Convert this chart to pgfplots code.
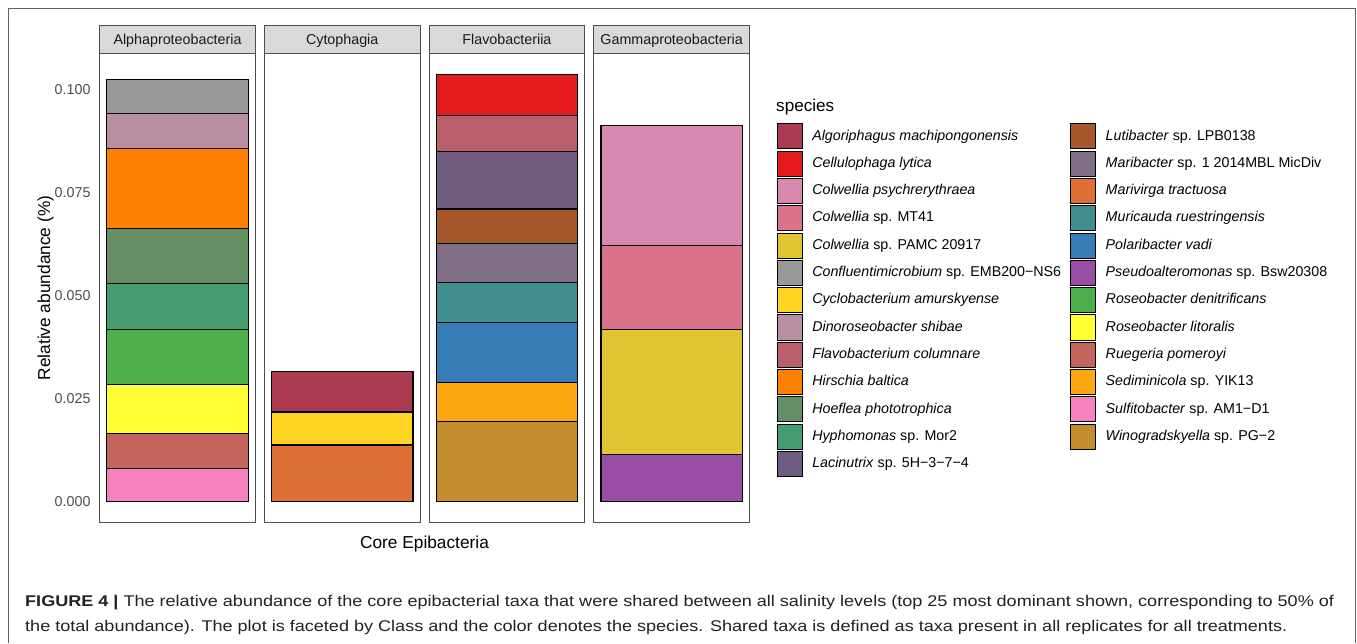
\documentclass[border=0pt]{standalone}
\usepackage{pgfplots}
\pgfplotsset{compat=1.18}
\usepackage{fontspec}
\setmainfont{Liberation Sans}
\newfontfamily\capfont[FakeStretch=1.165]{Liberation Sans}

% species colours
\definecolor{cAlgo}{HTML}{AB3A50}
\definecolor{cCell}{HTML}{E41A1C}
\definecolor{cCpsy}{HTML}{D889B0}
\definecolor{cCmt}{HTML}{DB728C}
\definecolor{cCpamc}{HTML}{E0C430}
\definecolor{cConf}{HTML}{999999}
\definecolor{cCycl}{HTML}{FFD422}
\definecolor{cDino}{HTML}{BA8FA4}
\definecolor{cFlav}{HTML}{BA606D}
\definecolor{cHirs}{HTML}{FF7F00}
\definecolor{cHoef}{HTML}{668F66}
\definecolor{cHyph}{HTML}{449E6F}
\definecolor{cLaci}{HTML}{6F5B80}
\definecolor{cLuti}{HTML}{A6572B}
\definecolor{cMarb}{HTML}{7F6F86}
\definecolor{cMarv}{HTML}{DE6F36}
\definecolor{cMuri}{HTML}{408E90}
\definecolor{cPola}{HTML}{377EB8}
\definecolor{cPseu}{HTML}{984EA3}
\definecolor{cRden}{HTML}{4DAF4A}
\definecolor{cRlit}{HTML}{FFFF33}
\definecolor{cRueg}{HTML}{C3655C}
\definecolor{cSedi}{HTML}{FDA713}
\definecolor{cSulf}{HTML}{F781BF}
\definecolor{cWino}{HTML}{C48D2E}

\definecolor{panelgray}{HTML}{4D4D4D}
\definecolor{stripfill}{HTML}{D9D9D9}
\definecolor{tickgray}{HTML}{4D4D4D}
\definecolor{framegray}{HTML}{5F5F5F}
\definecolor{captext}{HTML}{222222}

\pgfplotsset{
  panel/.style={
    anchor=south west,
    scale only axis,
    width=155.6pt, height=469.4pt,
    xmin=-0.55, xmax=0.55,
    ymin=-0.00518, ymax=0.1088,
    ybar stacked, bar width=1,
    xtick=\empty,
    ytick={0,0.025,0.05,0.075,0.1},
    yticklabels={},
    major tick length=0pt,
    axis line style={draw=panelgray, line width=0.9pt},
    every axis plot/.append style={draw=black, line width=1.3pt},
  },
}

\newcommand{\strip}[2]{%
  \draw[panelgray, line width=0.9pt, fill=stripfill]
    (#1.north west) rectangle ([yshift=27.6pt]#1.north east);
  \node[anchor=base, text=black!90, font=\fontsize{14.3}{16}\selectfont]
    at ([yshift=9.1pt]#1.north) {#2};
}

\begin{document}
\begin{tikzpicture}
\path[use as bounding box, fill=white] (0pt,0pt) rectangle (1357pt,643pt);

% outer frame (open at the bottom)
\draw[framegray, line width=1pt] (8pt,0pt) -- (8pt,634pt) -- (1355.5pt,634pt) -- (1355.5pt,0pt);

% Alphaproteobacteria
\begin{axis}[panel, name=p1, at={(99.7pt,120.3pt)},
  yticklabels={0.000,0.025,0.050,0.075,0.100},
  yticklabel style={font=\fontsize{14.3}{16}\selectfont, text=tickgray, inner sep=0pt, xshift=-9pt}]
\addplot[fill=cSulf] coordinates {(0,0.0079)};
\addplot[fill=cRueg] coordinates {(0,0.0085)};
\addplot[fill=cRlit] coordinates {(0,0.0119)};
\addplot[fill=cRden] coordinates {(0,0.0135)};
\addplot[fill=cHyph] coordinates {(0,0.0111)};
\addplot[fill=cHoef] coordinates {(0,0.0134)};
\addplot[fill=cHirs] coordinates {(0,0.0194)};
\addplot[fill=cDino] coordinates {(0,0.0084)};
\addplot[fill=cConf] coordinates {(0,0.0083)};
\end{axis}

% Cytophagia
\begin{axis}[panel, name=p2, at={(264.4pt,120.3pt)}]
\addplot[fill=cMarv] coordinates {(0,0.0137)};
\addplot[fill=cCycl] coordinates {(0,0.0080)};
\addplot[fill=cAlgo] coordinates {(0,0.0098)};
\end{axis}

% Flavobacteriia
\begin{axis}[panel, name=p3, at={(429.1pt,120.3pt)}]
\addplot[fill=cWino] coordinates {(0,0.0194)};
\addplot[fill=cSedi] coordinates {(0,0.0095)};
\addplot[fill=cPola] coordinates {(0,0.0145)};
\addplot[fill=cMuri] coordinates {(0,0.0098)};
\addplot[fill=cMarb] coordinates {(0,0.0094)};
\addplot[fill=cLuti] coordinates {(0,0.0084)};
\addplot[fill=cLaci] coordinates {(0,0.0140)};
\addplot[fill=cFlav] coordinates {(0,0.0087)};
\addplot[fill=cCell] coordinates {(0,0.0099)};
\end{axis}

% Gammaproteobacteria
\begin{axis}[panel, name=p4, at={(593.8pt,120.3pt)}]
\addplot[fill=cPseu] coordinates {(0,0.0114)};
\addplot[fill=cCpamc] coordinates {(0,0.0304)};
\addplot[fill=cCmt] coordinates {(0,0.0204)};
\addplot[fill=cCpsy] coordinates {(0,0.0291)};
\end{axis}

\strip{p1}{Alphaproteobacteria}
\strip{p2}{Cytophagia}
\strip{p3}{Flavobacteriia}
\strip{p4}{Gammaproteobacteria}

% axis titles
\node[anchor=base, rotate=90, font=\fontsize{17.3}{20}\selectfont] at (50pt,355pt) {Relative abundance (\%)};
\node[anchor=base, font=\fontsize{17.3}{20}\selectfont] at (424.5pt,95pt) {Core Epibacteria};

% legend
\node[anchor=base west, inner sep=0pt, font=\fontsize{17.1}{20}\selectfont] at (776pt,531.3pt) {species};
\begin{axis}[at={(776.7pt,519.7pt)}, anchor=north west, hide axis, scale only axis,
  width=10pt, height=10pt, xmin=0, xmax=1, ymin=0, ymax=1,
  legend columns=2, legend cell align=left,
  legend style={at={(0,1)}, anchor=north west, draw=none, fill=none,
    inner sep=0pt, outer sep=0pt, row sep=1.3pt, column sep=0pt,
    font=\fontsize{14.25}{16}\selectfont,
    nodes={inner sep=0pt, text height=10.5pt, text depth=3pt},
    /tikz/every odd column/.append style={column sep=9.6pt},
    /tikz/every even column/.append style={column sep=9pt}},
  legend image code/.code={\draw[#1, line width=0.9pt] (0.45pt,-12.55pt) rectangle (25.55pt,12.55pt);}]
\addlegendimage{fill=cAlgo, draw=black}\addlegendentry{\textit{Algoriphagus machipongonensis}}
\addlegendimage{fill=cLuti, draw=black}\addlegendentry{\textit{Lutibacter} sp. LPB0138}
\addlegendimage{fill=cCell, draw=black}\addlegendentry{\textit{Cellulophaga lytica}}
\addlegendimage{fill=cMarb, draw=black}\addlegendentry{\textit{Maribacter} sp. 1 2014MBL MicDiv}
\addlegendimage{fill=cCpsy, draw=black}\addlegendentry{\textit{Colwellia psychrerythraea}}
\addlegendimage{fill=cMarv, draw=black}\addlegendentry{\textit{Marivirga tractuosa}}
\addlegendimage{fill=cCmt, draw=black}\addlegendentry{\textit{Colwellia} sp. MT41}
\addlegendimage{fill=cMuri, draw=black}\addlegendentry{\textit{Muricauda ruestringensis}}
\addlegendimage{fill=cCpamc, draw=black}\addlegendentry{\textit{Colwellia} sp. PAMC 20917}
\addlegendimage{fill=cPola, draw=black}\addlegendentry{\textit{Polaribacter vadi}}
\addlegendimage{fill=cConf, draw=black}\addlegendentry{\textit{Confluentimicrobium} sp. EMB200−NS6}
\addlegendimage{fill=cPseu, draw=black}\addlegendentry{\textit{Pseudoalteromonas} sp. Bsw20308}
\addlegendimage{fill=cCycl, draw=black}\addlegendentry{\textit{Cyclobacterium amurskyense}}
\addlegendimage{fill=cRden, draw=black}\addlegendentry{\textit{Roseobacter denitrificans}}
\addlegendimage{fill=cDino, draw=black}\addlegendentry{\textit{Dinoroseobacter shibae}}
\addlegendimage{fill=cRlit, draw=black}\addlegendentry{\textit{Roseobacter litoralis}}
\addlegendimage{fill=cFlav, draw=black}\addlegendentry{\textit{Flavobacterium columnare}}
\addlegendimage{fill=cRueg, draw=black}\addlegendentry{\textit{Ruegeria pomeroyi}}
\addlegendimage{fill=cHirs, draw=black}\addlegendentry{\textit{Hirschia baltica}}
\addlegendimage{fill=cSedi, draw=black}\addlegendentry{\textit{Sediminicola} sp. YIK13}
\addlegendimage{fill=cHoef, draw=black}\addlegendentry{\textit{Hoeflea phototrophica}}
\addlegendimage{fill=cSulf, draw=black}\addlegendentry{\textit{Sulfitobacter} sp. AM1−D1}
\addlegendimage{fill=cHyph, draw=black}\addlegendentry{\textit{Hyphomonas} sp. Mor2}
\addlegendimage{fill=cWino, draw=black}\addlegendentry{\textit{Winogradskyella} sp. PG−2}
\addlegendimage{fill=cLaci, draw=black}\addlegendentry{\textit{Lacinutrix} sp. 5H−3−7−4}
\end{axis}

% caption
\node[anchor=base west, inner sep=0pt, text=captext, font=\capfont\fontsize{15.5}{18}\selectfont] at (25pt,37pt)
  {\textbf{FIGURE 4 |} The relative abundance of the core epibacterial taxa that were shared between all salinity levels (top 25 most dominant shown, corresponding to 50\% of};
\node[anchor=base west, inner sep=0pt, text=captext, font=\capfont\fontsize{15.5}{18}\selectfont] at (25pt,12pt)
  {the total abundance). The plot is faceted by Class and the color denotes the species. Shared taxa is defined as taxa present in all replicates for all treatments.};
\end{tikzpicture}
\end{document}
